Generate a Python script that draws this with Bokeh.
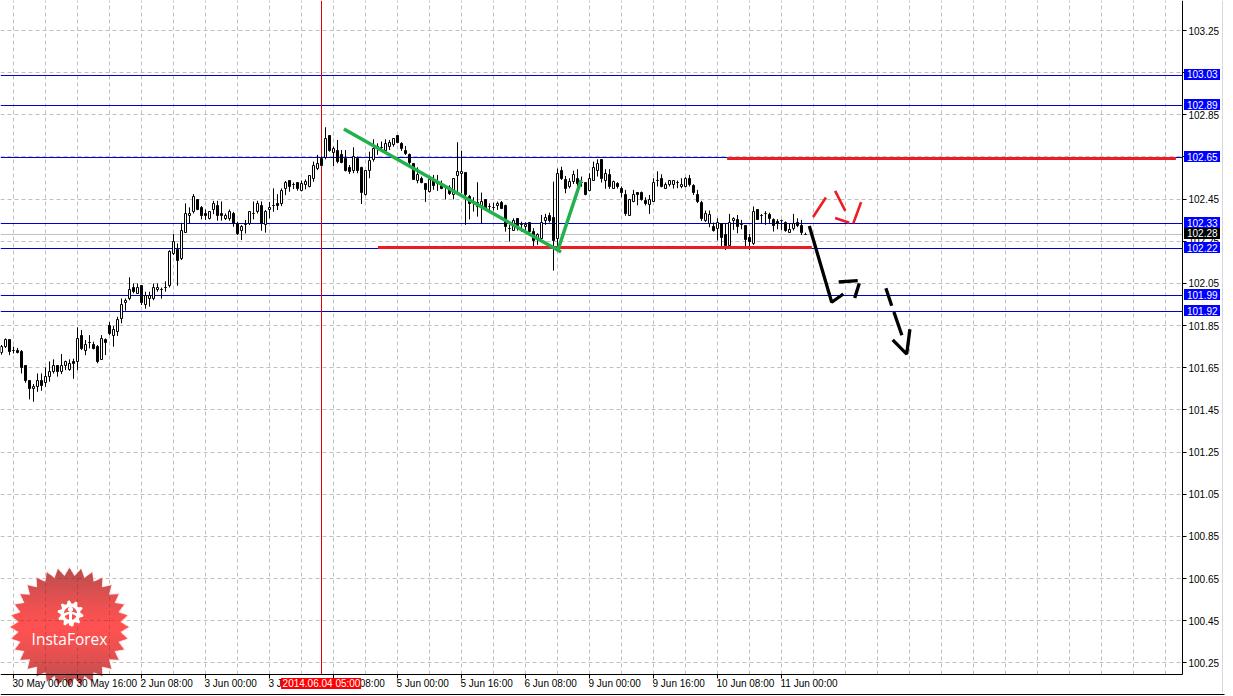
import math
from bokeh.plotting import figure
from bokeh.embed import file_html
from bokeh.resources import INLINE
from bokeh.models import (ColumnDataSource, Range1d, FixedTicker, Label, BoxAnnotation,
                          NumeralTickFormatter, LinearAxis)

opens = [101.721,101.750,101.782,101.731,101.734,101.725,101.661,101.590,101.551,101.562,
101.590,101.579,101.608,101.631,101.661,101.631,101.660,101.641,101.680,101.680,
101.804,101.733,101.770,101.761,101.751,101.690,101.782,101.851,101.802,101.823,
101.886,101.960,101.978,102.030,102.001,102.041,101.951,101.979,101.979,102.020,
102.022,102.031,102.041,102.193,102.212,102.170,102.292,102.373,102.390,102.449,
102.411,102.382,102.357,102.401,102.420,102.382,102.359,102.359,102.382,102.335,
102.300,102.332,102.335,102.382,102.390,102.420,102.332,102.401,102.420,102.430,
102.430,102.501,102.537,102.520,102.529,102.490,102.519,102.509,102.549,102.596,
102.641,102.648,102.754,102.671,102.683,102.663,102.641,102.601,102.588,102.641,
102.601,102.471,102.588,102.637,102.699,102.696,102.680,102.699,102.707,102.753,
102.712,102.682,102.663,102.620,102.538,102.550,102.522,102.486,102.538,102.522,
102.514,102.506,102.506,102.471,102.560,102.571,102.576,102.462,102.438,102.433,
102.415,102.449,102.415,102.410,102.419,102.432,102.421,102.313,102.301,102.359,
102.328,102.320,102.340,102.296,102.260,102.264,102.350,102.372,102.361,102.264,
102.584,102.544,102.508,102.533,102.550,102.528,102.528,102.490,102.538,102.588,
102.636,102.538,102.565,102.502,102.522,102.502,102.473,102.374,102.439,102.483,
102.483,102.442,102.423,102.440,102.538,102.549,102.502,102.521,102.521,102.529,
102.510,102.510,102.549,102.513,102.473,102.435,102.348,102.333,102.322,102.312,
102.336,102.284,102.228,102.347,102.352,102.331,102.323,102.269,102.241,102.402,
102.374,102.383,102.375,102.352,102.344,102.348,102.339,102.293,102.312,102.340,
102.323,102.284]

highs = [101.758,101.789,101.785,101.750,101.744,101.734,101.661,101.590,101.573,101.623,
101.623,101.652,101.680,101.690,101.661,101.715,101.684,101.690,101.693,101.842,
101.829,101.782,101.805,101.774,101.758,101.805,101.789,101.867,101.848,101.892,
101.979,101.979,102.079,102.050,102.050,102.041,102.011,102.011,102.050,102.050,
102.030,102.060,102.208,102.284,102.240,102.338,102.430,102.411,102.474,102.449,
102.417,102.401,102.390,102.442,102.442,102.439,102.382,102.401,102.390,102.343,
102.327,102.351,102.392,102.439,102.442,102.439,102.398,102.436,102.501,102.474,
102.501,102.536,102.540,102.529,102.529,102.538,102.544,102.563,102.628,102.660,
102.652,102.791,102.754,102.699,102.731,102.683,102.683,102.612,102.696,102.652,
102.604,102.588,102.675,102.734,102.715,102.723,102.734,102.731,102.739,102.753,
102.720,102.702,102.667,102.620,102.601,102.557,102.522,102.544,102.565,102.565,
102.538,102.517,102.516,102.549,102.720,102.680,102.576,102.470,102.459,102.530,
102.481,102.449,102.430,102.433,102.438,102.441,102.424,102.328,102.359,102.359,
102.343,102.340,102.342,102.312,102.288,102.375,102.380,102.386,102.533,102.595,
102.604,102.560,102.549,102.585,102.592,102.557,102.528,102.573,102.628,102.639,
102.639,102.592,102.592,102.538,102.530,102.510,102.494,102.451,102.494,102.483,
102.486,102.459,102.470,102.549,102.582,102.568,102.529,102.541,102.541,102.538,
102.549,102.554,102.565,102.521,102.494,102.442,102.396,102.396,102.339,102.359,
102.336,102.336,102.380,102.364,102.375,102.352,102.323,102.285,102.415,102.402,
102.380,102.393,102.386,102.359,102.355,102.352,102.344,102.333,102.380,102.359,
102.352,102.291]

lows = [101.712,101.744,101.710,101.718,101.718,101.623,101.579,101.500,101.489,101.536,
101.541,101.560,101.584,101.623,101.608,101.620,101.639,101.636,101.598,101.639,
101.734,101.710,101.742,101.737,101.671,101.687,101.710,101.805,101.750,101.801,
101.861,101.921,101.971,102.003,102.000,101.948,101.930,101.940,101.971,102.011,
101.978,102.011,102.031,102.185,102.039,102.161,102.291,102.335,102.382,102.398,
102.354,102.351,102.354,102.379,102.348,102.348,102.351,102.348,102.319,102.280,
102.256,102.287,102.327,102.354,102.382,102.300,102.291,102.359,102.390,102.398,
102.417,102.469,102.485,102.498,102.490,102.487,102.497,102.506,102.533,102.588,
102.607,102.639,102.675,102.607,102.620,102.620,102.581,102.569,102.573,102.573,
102.427,102.468,102.549,102.628,102.660,102.675,102.675,102.683,102.699,102.715,
102.679,102.660,102.612,102.541,102.525,102.525,102.437,102.481,102.494,102.489,
102.497,102.449,102.470,102.449,102.478,102.478,102.328,102.354,102.391,102.367,
102.335,102.399,102.391,102.396,102.399,102.403,102.296,102.249,102.299,102.301,
102.296,102.304,102.291,102.225,102.233,102.256,102.328,102.339,102.111,102.209,
102.541,102.478,102.501,102.522,102.509,102.509,102.468,102.487,102.538,102.557,
102.529,102.499,102.499,102.499,102.500,102.459,102.371,102.371,102.435,102.421,
102.443,102.420,102.380,102.437,102.510,102.506,102.499,102.510,102.500,102.502,
102.502,102.506,102.510,102.470,102.431,102.347,102.342,102.317,102.296,102.254,
102.225,102.209,102.225,102.304,102.288,102.307,102.225,102.209,102.233,102.352,
102.333,102.328,102.336,102.296,102.307,102.304,102.295,102.291,102.301,102.317,
102.280,102.282]

closes = [101.750,101.782,101.726,101.731,101.721,101.650,101.589,101.551,101.563,101.590,
101.568,101.609,101.633,101.661,101.631,101.661,101.680,101.671,101.671,101.789,
101.740,101.761,101.770,101.742,101.680,101.789,101.770,101.812,101.832,101.880,
101.951,101.970,102.022,102.011,102.031,101.959,101.992,101.992,102.031,102.031,
102.022,102.031,102.202,102.250,102.159,102.300,102.382,102.382,102.463,102.401,
102.373,102.373,102.390,102.430,102.373,102.373,102.373,102.392,102.335,102.287,
102.319,102.332,102.392,102.382,102.430,102.335,102.392,102.411,102.420,102.420,
102.491,102.529,102.509,102.520,102.501,102.522,102.532,102.563,102.611,102.620,
102.609,102.739,102.680,102.691,102.628,102.625,102.588,102.579,102.652,102.588,
102.481,102.584,102.631,102.691,102.699,102.696,102.712,102.720,102.739,102.718,
102.691,102.667,102.625,102.544,102.565,102.528,102.497,102.544,102.517,102.522,
102.500,102.506,102.478,102.549,102.582,102.582,102.470,102.430,102.438,102.415,
102.440,102.407,102.415,102.410,102.430,102.407,102.320,102.313,102.350,102.324,
102.328,102.331,102.296,102.252,102.280,102.340,102.361,102.348,102.256,102.574,
102.547,102.500,102.533,102.565,102.522,102.528,102.471,102.550,102.601,102.620,
102.546,102.573,102.510,102.533,102.510,102.481,102.380,102.450,102.473,102.473,
102.450,102.431,102.450,102.530,102.538,102.510,102.521,102.538,102.538,102.529,
102.521,102.549,102.519,102.481,102.437,102.356,102.383,102.375,102.301,102.340,
102.268,102.228,102.340,102.359,102.320,102.331,102.257,102.247,102.393,102.355,
102.374,102.383,102.359,102.323,102.333,102.348,102.301,102.304,102.333,102.325,
102.291,102.284]

y_ticks = [100.25,100.45,100.65,100.85,101.05,101.25,101.45,101.65,101.85,102.05,102.25,102.45,102.65,102.85,103.05,103.25]
x_ticks = [3,19,35,51,67,83,99,115,131,147,163,179,195]
x_tick_labels = ["30 May 00:00","30 May 16:00","2 Jun 08:00","3 Jun 00:00","3 Jun 16:00","4 Jun 08:00",
                 "5 Jun 00:00","5 Jun 16:00","6 Jun 08:00","9 Jun 00:00","9 Jun 16:00","10 Jun 08:00","11 Jun 00:00"]
x_grid = [-5+8*k for k in range(38)]

level_values = [103.03653,102.89421,102.64753,102.33444,102.21584,101.99288,101.91698]
level_labels = ["103.03","102.89","102.65","102.33","102.22","101.99","101.92"]
bid_value = 102.28226
bid_label = "102.28"
cross_bar = 80
cross_label = "2014.06.04 05:00"

red_zone_x = [[94.1,202.6],[181.4,293.6]]
red_zone_y = [[102.2206,102.2206],[102.6428,102.6428]]
green_x = [[85.6,139.9],[139.1,144.9]]
green_y = [[102.783,102.199],[102.209,102.541]]
red_x = [[202.9,206.1],[208.4,210.95],[208.4,211.95],[212.95,214.9]]
red_y = [[102.365,102.458],[102.489,102.394],[102.361,102.338],[102.335,102.436]]
black_x = [[201.95,207.55,210.45],[209.3,214.05],[214.45,213.3],[221.1,222.55],[223.1,225.1],[222.8,226.3,227.1]]
black_y = [[102.323,101.961,102.0],[102.057,102.063],[102.051,101.981],[102.027,101.944],[101.915,101.804],[101.782,101.715,101.833]]

FONT = "Liberation Sans"
FS = "10px"
BLUE = "#0000cc"

W, H = 1233, 696
SCALE = 210.8
Y_TOP = 103.25 + 30/SCALE
Y_BOT = Y_TOP - H/SCALE
X_LEFT = -0.25
X_RIGHT = X_LEFT + W/4
AXIS_X = 295.25
AXIS_Y = 103.25 - 644/SCALE

def px_x(px):
    return X_LEFT + px/4
def px_y(py):
    return Y_TOP - py/SCALE
def y_px(v):
    return (Y_TOP - v)*SCALE
def snap(v):
    return px_y(round(y_px(v)))

p = figure(width=W, height=H, output_backend="svg", toolbar_location=None,
           x_range=Range1d(X_LEFT, X_RIGHT), y_range=Range1d(Y_BOT, Y_TOP),
           x_axis_type=None, y_axis_type=None, min_border=0,
           outline_line_color=None, background_fill_color="white", border_fill_color="white")
p.grid.visible = False

yaxis = LinearAxis(fixed_location=AXIS_X, bounds=(AXIS_Y, Y_TOP), ticker=FixedTicker(ticks=y_ticks),
                   formatter=NumeralTickFormatter(format="0.00"), major_label_text_font=FONT,
                   major_label_text_font_size=FS, major_label_text_color="black", major_label_standoff=2,
                   major_tick_out=4, major_tick_in=0, minor_tick_line_color=None, axis_line_color="black",
                   major_tick_line_color="black")
p.add_layout(yaxis, "right")
xaxis = LinearAxis(fixed_location=AXIS_Y, bounds=(X_LEFT, AXIS_X), ticker=FixedTicker(ticks=x_ticks),
                   major_label_overrides={t: "" for t in x_ticks}, major_tick_out=4, major_tick_in=0,
                   minor_tick_line_color=None, axis_line_color="black", major_tick_line_color="black")
p.add_layout(xaxis, "below")

# dashed grid stops at the axes
grid_style = dict(line_color="#c0c0c0", line_width=1, line_dash="4 3")
p.segment(x_grid, [AXIS_Y]*len(x_grid), x_grid, [Y_TOP]*len(x_grid), **grid_style)
y_grid = [snap(v) for v in y_ticks]
p.segment([X_LEFT]*len(y_grid), y_grid, [AXIS_X]*len(y_grid), y_grid, **grid_style)

# terminal frame lines
p.add_layout(BoxAnnotation(left=px_x(1221.5), right=px_x(1222.5), top=px_y(0), bottom=px_y(692), fill_color="#d8d8d8",
                           fill_alpha=1, line_color=None))
p.add_layout(BoxAnnotation(left=px_x(0), right=px_x(1224), top=px_y(693.5), bottom=px_y(694.5), fill_color="black",
                           fill_alpha=1, line_color=None))

# horizontal levels, bid line, crosshair
p.segment([X_LEFT]*len(level_values), level_values, [AXIS_X]*len(level_values), level_values,
          line_color=BLUE, line_width=1)
p.segment([X_LEFT], [bid_value], [AXIS_X], [bid_value], line_color="#c0c0c0", line_width=1)
p.segment([cross_bar], [AXIS_Y], [cross_bar], [Y_TOP], line_color="#e00000", line_width=1)

idx = list(range(len(opens)))
src = ColumnDataSource(dict(x=idx, h=highs, l=lows,
                            top=[snap(max(a, b)) for a, b in zip(opens, closes)],
                            bot=[snap(min(a, b)) for a, b in zip(opens, closes)],
                            fill=["white" if c >= o else "black" for o, c in zip(opens, closes)]))
p.segment("x", "h", "x", "l", source=src, line_color="black", line_width=1)
p.vbar("x", width=0.5, top="top", bottom="bot", fill_color="fill", line_color="black", line_width=1, source=src)

p.multi_line(red_zone_x, red_zone_y, line_color="#ed1c24", line_width=3)
p.multi_line(green_x, green_y, line_color="#22b14c", line_width=3.5)
p.multi_line(red_x, red_y, line_color="#ed1c24", line_width=2.6)
p.multi_line(black_x, black_y, line_color="black", line_width=3.3)

# logo badge (decorative, placed in window pixels)
CX, CY, RO, RI, NT = 69.0, 626.5, 59.0, 51.0, 32
star = []
for k in range(2*NT):
    r = RO if k % 2 == 0 else RI
    a = math.pi*k/NT
    star.append((CX + r*math.cos(a), CY + r*math.sin(a)))

def clip(poly, y0, keep_above):
    out = []
    ins = (lambda q: q[1] <= y0) if keep_above else (lambda q: q[1] >= y0)
    for i in range(len(poly)):
        a, b = poly[i], poly[(i+1) % len(poly)]
        if ins(a):
            out.append(a)
        if ins(a) != ins(b):
            t = (y0-a[1])/(b[1]-a[1])
            out.append((a[0]+t*(b[0]-a[0]), y0))
    return out

def poly(points, color, alpha=1.0):
    p.patch([px_x(q[0]) for q in points], [px_y(q[1]) for q in points], fill_color=color, fill_alpha=alpha,
            line_color=None)

poly([(CX+(q[0]-CX)*1.03, CY+(q[1]-CY)*1.03) for q in star], "#ffd0d0", 0.7)
y = int(CY-RO)-1
while y < CY+RO+1:
    band = clip(clip(star, y, False), y+4, True)
    if len(band) > 2:
        g = min(1.0, abs(y+1.5-CY)/RO)**1.4
        poly(band, "#%02x%02x%02x" % (int(255-(255-180)*g), int(82-4*g), int(82-4*g)))
    y += 3

# grid dashes showing through the badge
dark = dict(line_color="black", line_alpha=0.16, line_width=1, line_dash="4 3")
for gx in (45, 77, 109):
    half = math.sqrt(max(0, 50**2-(gx-CX)**2))
    p.segment([px_x(gx)], [px_y(CY-half)], [px_x(gx)], [px_y(CY+half)], **dark)
for gy in (578, 620, 662):
    half = math.sqrt(max(0, 50**2-(gy-CY)**2))
    p.segment([px_x(CX-half)], [px_y(gy)], [px_x(CX+half)], [px_y(gy)], **dark)

GX, GY = 70.0, 613.0
gear = []
for k in range(40):
    a = 2*math.pi*k/40
    r = 13.0 if (k % 4) in (0, 1) else 10.0
    gear.append((GX+r*math.cos(a+0.1), GY+r*math.sin(a+0.1)))
poly(gear, "#ffffff")
poly([(GX+6.5*math.cos(2*math.pi*k/24), GY+6.5*math.sin(2*math.pi*k/24)) for k in range(24)], "#f45050")
poly([(GX-8, GY+7), (GX-5, GY+2), (GX-1.5, GY+0.5), (GX-1.5, GY+12), (GX+1.5, GY+12), (GX+1.5, GY+0.5),
      (GX+5, GY+2), (GX+8, GY+7), (GX+7, GY), (GX+3, GY-1.5), (GX-3, GY-1.5), (GX-7, GY)], "#ffffff")
poly([(GX+2.6*math.cos(2*math.pi*k/16), GY-4+2.6*math.sin(2*math.pi*k/16)) for k in range(16)], "#ffffff")
p.add_layout(Label(x=px_x(69), y=px_y(638.5), text="InstaForex", text_color="white", text_font="Open Sans",
                   text_font_size="15.5px", text_align="center", text_baseline="middle"))

# time-scale labels
for t, s in zip(x_ticks, x_tick_labels):
    p.add_layout(Label(x=t, y=px_y(683), x_offset=-1, text=s, text_color="black", text_font=FONT,
                       text_font_size=FS, text_align="left", text_baseline="middle"))
p.add_layout(BoxAnnotation(left=px_x(280.5), right=px_x(360.5), top=px_y(677.5), bottom=px_y(688.5),
                           fill_color="#ff0000", fill_alpha=1, line_color=None))
p.add_layout(Label(x=cross_bar, y=px_y(683), text=cross_label, text_color="white", text_font=FONT,
                   text_font_size=FS, text_align="center", text_baseline="middle"))

# price tags
def tag(v, s, color):
    c = y_px(v) - 1
    p.add_layout(BoxAnnotation(left=px_x(1183.5), right=px_x(1219.5), top=px_y(c-5.5), bottom=px_y(c+5.5),
                               fill_color=color, fill_alpha=1, line_color=None))
    p.add_layout(Label(x=px_x(1186.5), y=px_y(c), text=s, text_color="white", text_font=FONT, text_font_size=FS,
                       text_align="left", text_baseline="middle"))

for v, s in zip(level_values, level_labels):
    tag(v, s, "#0000ff")
tag(bid_value, bid_label, "black")

open("out.html", "w").write(file_html(p, INLINE))
